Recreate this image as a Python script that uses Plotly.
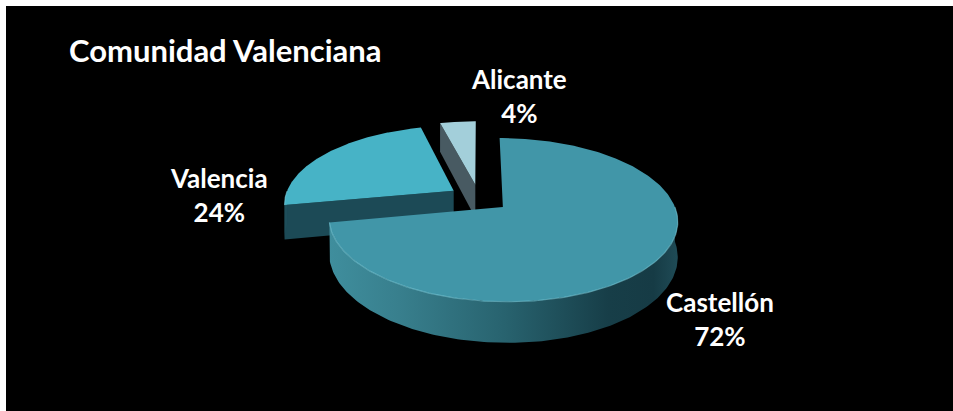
import numpy as np
import plotly.graph_objects as go

# Data
provincias = ["Castellón", "Valencia", "Alicante"]
porcentajes = [72, 24, 4]

# Styles
colores_cara = ["#4196a8", "#47b3c6", "#a3cfda"]
colores_corte = ["#1b4650", "#1c4a56", "#485a62"]
colores_lado = ["#2b6a77", "#1e4d59", "#485a62"]
gradiente_castellon = [
    [0.0, "#3f8e9d"], [0.2, "#387f8d"], [0.5, "#28636f"],
    [0.8, "#173e48"], [0.93, "#163b45"], [1.0, "#1f4b56"],
]

# Pseudo-3D projection of the pie
CX, CY = 479, 198        # projected centre of the disc (pixels)
RX, RY = 169, 77         # horizontal / vertical radii
P = 0.155                # perspective foreshortening
D = 34                   # thickness of the disc
EXPLODE = 0.18           # radial separation of every slice
START = 90.0             # first slice starts at twelve o'clock, clockwise


def proj(u, v, h=0.0):
    w = 1 + P * v
    return CX + RX * u / w, CY - RY * v / w + D * h / w


fig = go.Figure()


def add_poly(xs, ys, color, gradient=None):
    kw = dict(
        x=list(xs) + [xs[0]], y=list(ys) + [ys[0]], mode="lines",
        fill="toself", fillcolor=color, line=dict(width=0, color=color),
        hoverinfo="skip", showlegend=False,
    )
    if gradient is not None:
        kw["fillgradient"] = dict(type="horizontal", colorscale=gradient)
    fig.add_trace(go.Scatter(**kw))


total = sum(porcentajes)
slices = []
a = START
for i, val in enumerate(porcentajes):
    a0 = a
    a1 = a - 360.0 * val / total
    m = np.radians((a0 + a1) / 2)
    slices.append(dict(i=i, a0=a0, a1=a1, eu=EXPLODE * np.cos(m), ev=EXPLODE * np.sin(m)))
    a = a1

# paint far slices first
for s in sorted(slices, key=lambda s: -s["ev"]):
    i, a0, a1, eu, ev = s["i"], s["a0"], s["a1"], s["eu"], s["ev"]
    th = np.radians(np.linspace(a0, a1, 240))
    u = eu + np.cos(th)
    v = ev + np.sin(th)

    # radial cut faces turned towards the viewer
    for edge, normal in ((a0, a0 + 90), (a1, a1 - 90)):
        if np.sin(np.radians(normal)) < -1e-6:
            ue = eu + np.cos(np.radians(edge))
            ve = ev + np.sin(np.radians(edge))
            p1 = proj(eu, ev, 0)
            p2 = proj(ue, ve, 0)
            p3 = proj(ue, ve, 1)
            p4 = proj(eu, ev, 1)
            add_poly([p1[0], p2[0], p3[0], p4[0]], [p1[1], p2[1], p3[1], p4[1]], colores_corte[i])

    # visible outer rim
    vis = np.sin(th) < 0
    if vis.sum() > 1:
        tx, ty = proj(u[vis], v[vis], 0)
        bx, by = proj(u[vis], v[vis], 1)
        grad = gradiente_castellon if i == 0 else None
        add_poly(np.concatenate([tx, bx[::-1]]), np.concatenate([ty, by[::-1]]),
                 colores_lado[i], grad)

    # top face
    ax, ay = proj(eu, ev, 0)
    tx, ty = proj(u, v, 0)
    add_poly(np.concatenate([[ax], tx]), np.concatenate([[ay], ty]), colores_cara[i])

    # soft highlight along the front edge of the top face
    if vis.sum() > 1:
        hx, hy = proj(u[vis], v[vis], 0)
        fig.add_trace(go.Scatter(x=hx, y=hy, mode="lines",
                                 line=dict(color="rgba(125,205,220,0.55)", width=1.2),
                                 hoverinfo="skip", showlegend=False))

# data labels
label_pos = {0: (720, 319), 1: (219, 195), 2: (519, 96)}
for i, (name, val) in enumerate(zip(provincias, porcentajes)):
    lx, ly = label_pos[i]
    fig.add_annotation(x=lx, y=ly, xref="x", yref="y", showarrow=False,
                       text=f"{name}<br>{val}%", align="center",
                       font=dict(family="Lato", size=26, color="white", weight="bold"))

fig.add_annotation(x=67, y=50, xref="x", yref="y", xanchor="left", yanchor="middle",
                   showarrow=False, text="Comunidad Valenciana",
                   font=dict(family="Lato", size=31, color="white", weight="bold"))

fig.update_layout(
    width=953, height=411, margin=dict(l=0, r=0, t=0, b=0),
    paper_bgcolor="white", plot_bgcolor="black",
    xaxis=dict(range=[6, 953], domain=[6 / 953, 1], visible=False, fixedrange=True),
    yaxis=dict(range=[411, 6], domain=[0, 1 - 6 / 411], visible=False, fixedrange=True),
)

fig.write_html("out.html")
